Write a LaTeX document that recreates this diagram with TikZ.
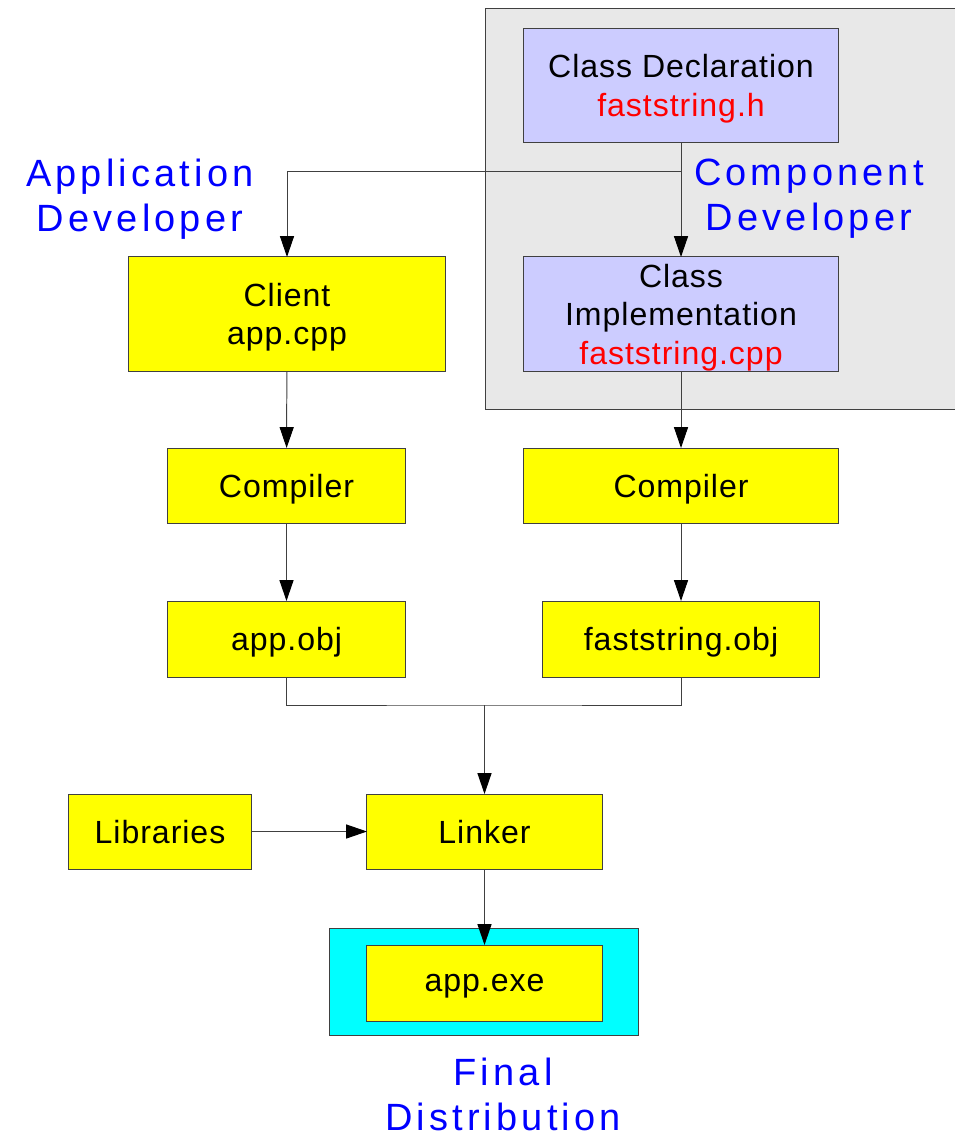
\documentclass[tikz,border=0pt]{standalone}
\usepackage{fontspec}
\setmainfont{Liberation Sans}[LetterSpace=3]
\newfontfamily\rolefont{Liberation Sans}[LetterSpace=11]
\usetikzlibrary{arrows.meta}

\definecolor{panelgray}{RGB}{232,232,232}
\definecolor{srcblue}{RGB}{204,204,255}
\definecolor{tooly}{RGB}{255,255,0}
\definecolor{distcyan}{RGB}{0,255,255}
\definecolor{rolebl}{RGB}{0,0,255}
\definecolor{filered}{RGB}{255,0,0}

\begin{document}
\begin{tikzpicture}[x=0.025cm, y=-0.025cm,
    >={Triangle[length=0.52cm, width=0.35cm, color=black]},
    box/.style={draw=black!75, line width=0.7pt, inner sep=0pt, outer sep=0pt,
        align=center, text depth=0pt, font=\fontsize{22.8}{27.4}\selectfont},
    tool/.style={box, fill=tooly},
    source/.style={box, fill=srcblue},
    role/.style={text=rolebl, align=center, font=\rolefont\fontsize{27}{32}\selectfont},
    link/.style={draw=black!75, line width=0.7pt}]

    \useasboundingbox (0,0) rectangle (954,1136);

    % component developer's area
    \filldraw[fill=panelgray, draw=black!75, line width=0.7pt] (485,8) rectangle (970,409);

    \node (decl) [source, minimum width=7.85cm, minimum height=2.825cm] at (681,85.5)
        {Class Declaration\\\textcolor{filered}{faststring.h}};
    \node (impl) [source, minimum width=7.85cm, minimum height=2.85cm] at (681,314)
        {Class\\Implementation\\\textcolor{filered}{faststring.cpp}};
    \node (client) [tool, minimum width=7.9cm, minimum height=2.85cm] at (287,314)
        {Client\\app.cpp};

    \node (appdev) [role] at (140,199) {Application\\Developer};
    \node (compdev) [role] at (809,199) {Component\\Developer};

    \node (compL) [tool, minimum width=5.925cm, minimum height=1.875cm] at (286.5,485.5) {Compiler};
    \node (compR) [tool, minimum width=7.85cm, minimum height=1.875cm] at (681,485.5) {Compiler};
    \node (appobj) [tool, minimum width=5.925cm, minimum height=1.9cm] at (286.5,639) {app.obj};
    \node (fsobj) [tool, minimum width=6.9cm, minimum height=1.9cm] at (681,639) {faststring.obj};

    \node (libs) [tool, minimum width=4.55cm, minimum height=1.875cm] at (160,831.5) {Libraries};
    \node (linker) [tool, minimum width=5.875cm, minimum height=1.875cm] at (484.5,831.5) {Linker};

    % final distribution
    \node (dist) [box, fill=distcyan, minimum width=7.7cm, minimum height=2.675cm] at (484,981.5) {};
    \node (appexe) [tool, minimum width=5.875cm, minimum height=1.9cm] at (484.5,983) {app.exe};
    \node (final) [role] at (503,1094) {Final\\Distribution};

    % connectors
    \coordinate (split) at (681,171);
    \coordinate (join) at (484.5,705);

    \draw[->, link] (decl) -- (impl);
    \draw[->, link] (split) -| (client);
    \draw[->, link] (client) -- (compL);
    \draw[->, link] (impl) -- (compR);
    \draw[->, link] (compL) -- (appobj);
    \draw[->, link] (compR) -- (fsobj);
    \draw[link] (appobj) |- (join) -| (fsobj);
    \draw[->, link] (join) -- (linker);
    \draw[->, link] (libs) -- (linker);
    \draw[->, link] (linker) -- (appexe);
\end{tikzpicture}
\end{document}
